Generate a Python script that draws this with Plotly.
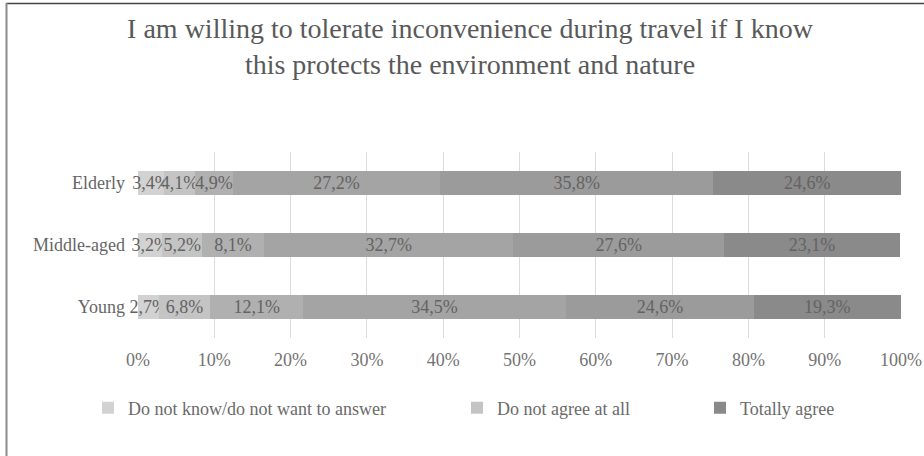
import plotly.graph_objects as go

categories = ["Young", "Middle-aged", "Elderly"]
series_names = [
    "Do not know/do not want to answer",
    "Do not agree at all",
    "Rather disagree",
    "Neither agree nor disagree",
    "Rather agree",
    "Totally agree",
]
values = {
    "Do not know/do not want to answer": [2.7, 3.2, 3.4],
    "Do not agree at all": [6.8, 5.2, 4.1],
    "Rather disagree": [12.1, 8.1, 4.9],
    "Neither agree nor disagree": [34.5, 32.7, 27.2],
    "Rather agree": [24.6, 27.6, 35.8],
    "Totally agree": [19.3, 23.1, 24.6],
}
colors = ["#d2d2d2", "#c4c4c4", "#b0b0b0", "#a4a4a4", "#9b9b9b", "#8a8a8a"]
legend_map = {
    "Do not know/do not want to answer": "legend",
    "Do not agree at all": "legend2",
    "Totally agree": "legend3",
}
tick_vals = [0, 10, 20, 30, 40, 50, 60, 70, 80, 90, 100]
tick_text = [f"{v}%" for v in tick_vals]

FONT = "Liberation Serif, Times New Roman, serif"

fig = go.Figure()
for name, col in zip(series_names, colors):
    fig.add_trace(go.Bar(
        y=categories,
        x=values[name],
        name=name,
        orientation="h",
        marker=dict(color=col, line=dict(width=0)),
        texttemplate="%{x:.1f}%",
        textposition="inside",
        insidetextanchor="middle",
        textangle=0,
        textfont=dict(family=FONT, size=18, color="#636363"),
        cliponaxis=False,
        showlegend=name in legend_map,
        legend=legend_map.get(name, "legend"),
    ))

# plot-area pixel geometry helpers for decorative border / legend placement
L, R, T, B = 138, 23, 152, 118
W, H = 924, 456
pw, ph = W - L - R, H - T - B
def px(x):
    return (x - L) / pw
def py(y):
    return (H - B - y) / ph

legend_common = dict(orientation="h", yanchor="middle", xanchor="left",
                     font=dict(family=FONT, size=18, color="#6a6a6a"),
                     bgcolor="rgba(0,0,0,0)", y=py(408))

fig.update_layout(
    width=W, height=H,
    margin=dict(l=L, r=R, t=T, b=B, autoexpand=False),
    paper_bgcolor="white", plot_bgcolor="white",
    barmode="stack",
    bargap=0.61,
    separators=", ",
    uniformtext=dict(minsize=18, mode="show"),
    title=dict(
        text="I am willing to tolerate inconvenience during travel if I know<br>this protects the environment and nature",
        x=470 / W, xanchor="center", xref="container",
        y=1 - 38 / H, yanchor="top", yref="container",
        font=dict(family=FONT, size=28, color="#595959"),
    ),
    xaxis=dict(
        range=[0, 100], tickvals=tick_vals, ticktext=tick_text,
        showgrid=True, gridcolor="#dcdcdc", gridwidth=1,
        zeroline=False, showline=False, ticks="",
        tickfont=dict(family=FONT, size=18, color="#737373"),
        ticklabelstandoff=9, fixedrange=True,
    ),
    yaxis=dict(
        categoryorder="array", categoryarray=categories,
        range=[-0.5, 2.5],
        showgrid=False, zeroline=False, showline=False, ticks="",
        tickfont=dict(family=FONT, size=18, color="#666666"),
        ticklabelstandoff=12, fixedrange=True,
    ),
    legend=dict(x=px(88), **legend_common),
    legend2=dict(x=px(457), **legend_common),
    legend3=dict(x=px(700), **legend_common),
    shapes=[
        dict(type="line", xref="paper", yref="paper",
             x0=px(6), x1=px(924), y0=py(3.5), y1=py(3.5),
             line=dict(color="#444444", width=1.5)),
        dict(type="line", xref="paper", yref="paper",
             x0=px(6.5), x1=px(6.5), y0=py(3), y1=py(456),
             line=dict(color="#8a8a8a", width=2)),
    ],
)

fig.write_html("out.html", config={"displayModeBar": False},
               post_script="document.body.style.margin='0';")
